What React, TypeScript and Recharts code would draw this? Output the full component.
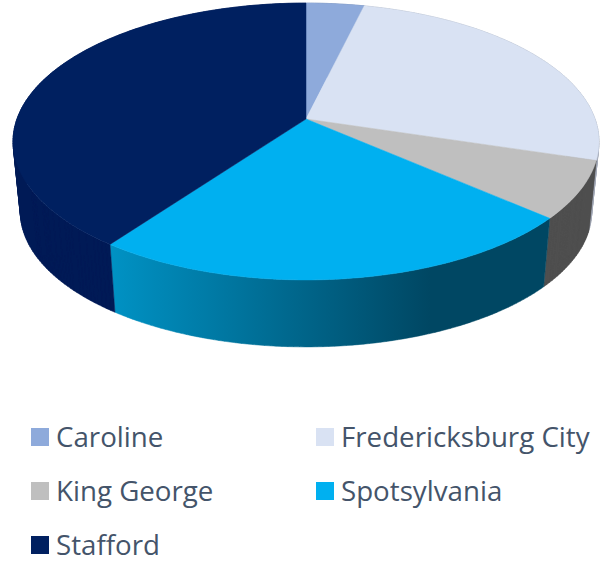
import { PieChart, Pie, Legend } from 'recharts'

const counties = ['Caroline', 'Fredericksburg City', 'King George', 'Spotsylvania', 'Stafford']
const shares = [3.75, 26, 6.7, 23.6, 40]

const topColors = ['#8eaadb', '#d9e2f3', '#bfbfbf', '#00b0f0', '#002060']
const sideColors = ['#6f85ab', '#a3a9b6', '#4f4f4f', 'url(#spotsSide)', '#001a56']

const faceData = counties.map((name, i) => ({ name, value: shares[i], fill: topColors[i] }))
const sideData = counties.map((name, i) => ({ name, value: shares[i], fill: sideColors[i] }))

// the top face is a circle seen in perspective, so the apex sits above the ellipse centre
const TILT = 0.1625
const X_SCALE = 0.9867
const Y_SCALE = 0.46
const BOTTOM_SCALE = 0.975
const DEPTH = 71

type Pt = [number, number]

function project(deg: number, p: any, scale = 1, dy = 0): Pt {
  const t = ((90 - deg) * Math.PI) / 180
  const u = Math.sin(t)
  const v = -Math.cos(t)
  const d = 1 - TILT * v
  return [
    p.cx + (p.outerRadius * X_SCALE * scale * u) / d,
    p.cy + dy + (p.outerRadius * Y_SCALE * scale * v) / d,
  ]
}

function arcPoints(p: any, scale = 1, dy = 0) {
  const pts: Pt[] = []
  const steps = Math.max(2, Math.ceil(Math.abs(p.endAngle - p.startAngle)))
  for (let i = 0; i <= steps; i++) {
    pts.push(project(p.startAngle + ((p.endAngle - p.startAngle) * i) / steps, p, scale, dy))
  }
  return pts
}

const toPath = (pts: Pt[]) => `M${pts.map(([x, y]) => `${x.toFixed(2)} ${y.toFixed(2)}`).join('L')}Z`

function FaceShape(p: any) {
  const d = toPath([[p.cx, p.cy], ...arcPoints(p)])
  return <path d={d} fill={p.fill} stroke={p.fill} strokeWidth={0.5} />
}

// one quad per degree, all wound the same way, so the wall also covers the sweep
// between the two ellipses at the sides and the single path has no seams
function SideShape(p: any) {
  const top = arcPoints(p)
  const bottom = arcPoints(p, BOTTOM_SCALE, DEPTH)
  const quads = top.slice(1).map((pt, i) => {
    const quad: Pt[] = [top[i], pt, bottom[i + 1], bottom[i]]
    let area = 0
    quad.forEach(([x, y], j) => {
      const [nx, ny] = quad[(j + 1) % 4]
      area += x * ny - nx * y
    })
    return toPath(area < 0 ? quad.reverse() : quad)
  })
  return <path d={quads.join('')} fill={p.fill} stroke={p.fill} strokeWidth={0.5} />
}

function LegendBlock({ payload }: any) {
  const items = (payload || []).filter((entry: any) => entry.type !== 'none')
  return (
    <div style={{ display: 'grid', gridTemplateColumns: '285px 285px', gridAutoRows: '54px' }}>
      {items.map((entry: any) => (
        <div key={entry.value} style={{ display: 'flex', alignItems: 'center', height: 54 }}>
          <span style={{ width: 18, height: 18, background: entry.color, marginRight: 7, flex: 'none' }} />
          <span style={{ fontSize: 27.7, color: '#44546a', whiteSpace: 'nowrap', position: 'relative', top: -1 }}>
            {entry.value}
          </span>
        </div>
      ))}
    </div>
  )
}

export default function App() {
  return (
    <div style={{ position: 'absolute', left: 0, top: 0, fontFamily: '"Open Sans", sans-serif' }}>
      <PieChart width={605} height={563} margin={{ top: 0, right: 0, bottom: 0, left: 0 }}>
        <defs>
          <linearGradient id="spotsSide" gradientUnits="userSpaceOnUse" x1="111" y1="0" x2="430" y2="0">
            <stop offset="0" stopColor="#0092c4" />
            <stop offset="1" stopColor="#004763" />
          </linearGradient>
        </defs>
        <Pie
          data={sideData}
          dataKey="value"
          nameKey="name"
          cx={306}
          cy={119}
          outerRadius={293}
          startAngle={90}
          endAngle={-270}
          legendType="none"
          shape={SideShape}
          isAnimationActive={false}
        />
        <Pie
          data={faceData}
          dataKey="value"
          nameKey="name"
          cx={306}
          cy={119}
          outerRadius={293}
          startAngle={90}
          endAngle={-270}
          shape={FaceShape}
          isAnimationActive={false}
        />
        <Legend
          content={LegendBlock}
          wrapperStyle={{ position: 'absolute', left: 31, top: 410, width: 574, bottom: 'auto' }}
        />
      </PieChart>
    </div>
  )
}
